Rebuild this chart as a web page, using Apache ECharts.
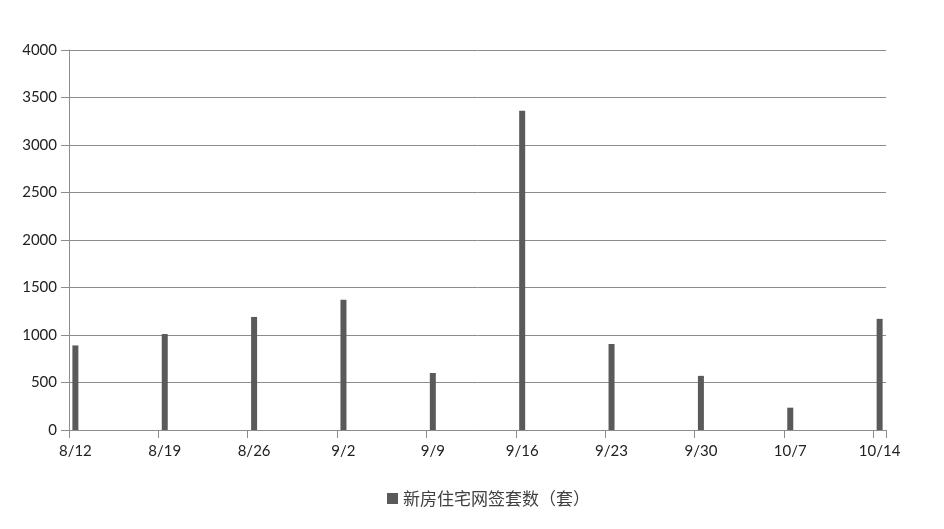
<!DOCTYPE html>
<html><head><meta charset="utf-8">
<script src="https://cdn.jsdelivr.net/npm/echarts@6/dist/echarts.min.js"></script>
<style>html,body{margin:0;padding:0;background:#fff}#c{width:944px;height:529px}</style>
</head><body><div id="c"></div>
<script>
const weekLabels = ['8/12','8/19','8/26','9/2','9/9','9/16','9/23','9/30','10/7','10/14'];
const signings = [890, 1010, 1190, 1370, 600, 3360, 905, 570, 235, 1170];
const seriesName = '新房住宅网签套数（套）';
const yTicks = {min: 0, max: 4000, interval: 500};

// daily date axis (Excel-style date axis): Aug 12 .. Oct 14
const days = [];
const dayVals = [];
const start = new Date(2019, 7, 12);
for (let i = 0; i < 64; i++) {
  const d = new Date(start.getTime() + i * 86400000);
  const lab = (d.getMonth() + 1) + '/' + d.getDate();
  days.push(lab);
  const k = weekLabels.indexOf(lab);
  dayVals.push(k >= 0 ? signings[k] : null);
}

const chart = echarts.init(document.getElementById('c'), null, {renderer: 'canvas'});
const axisGray = '#8c8c8c';
chart.setOption({
  animation: false,
  backgroundColor: '#fff',
  grid: {left: 69, right: 58, top: 50, bottom: 99, containLabel: false},
  legend: {
    data: [seriesName], left: 382, top: 485, icon: 'rect', itemWidth: 11, itemHeight: 11, itemGap: 6,
    textStyle: {fontFamily: 'Noto Sans CJK SC', fontSize: 17, color: '#404040'}
  },
  xAxis: {
    type: 'category', data: days, boundaryGap: true,
    axisLine: {lineStyle: {color: axisGray}},
    axisTick: {show: true, interval: 6, length: 8, lineStyle: {color: axisGray}},
    axisLabel: {interval: 6, margin: 14, fontFamily: 'Lato', fontSize: 15, color: '#222'},
    splitLine: {show: false}
  },
  yAxis: {
    type: 'value', min: yTicks.min, max: yTicks.max, interval: yTicks.interval,
    axisLine: {show: true, lineStyle: {color: axisGray}},
    axisTick: {show: true, length: 8, lineStyle: {color: axisGray}},
    axisLabel: {margin: 12, fontFamily: 'Lato', fontSize: 15, color: '#222', formatter: v => String(v)},
    splitLine: {lineStyle: {color: axisGray, width: 1}}
  },
  series: [{
    name: seriesName, type: 'bar', data: dayVals, barWidth: 6,
    itemStyle: {color: '#5a5a5a'}
  }]
});
</script></body></html>
